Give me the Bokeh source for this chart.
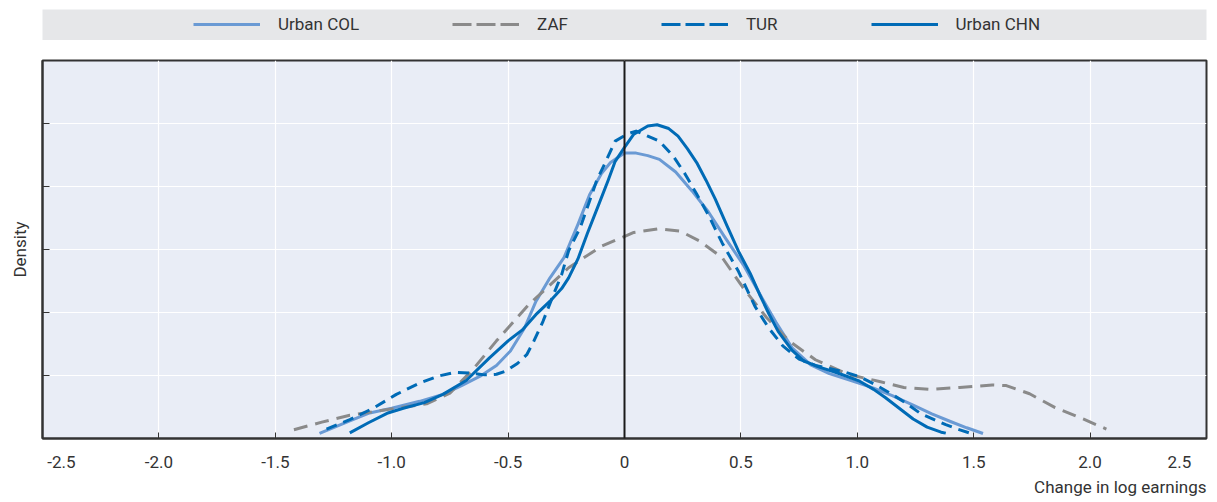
from bokeh.plotting import figure
from bokeh.models import Range1d, FixedTicker, Span, Legend, LegendItem, Title, CustomLabelingPolicy
from bokeh.layouts import column
from bokeh.embed import file_html
from bokeh.resources import INLINE

# ---------------- data ----------------
series_names = ["Urban COL", "ZAF", "TUR", "Urban CHN"]

col_x = [-1.31, -1.18, -1.10, -1.0, -0.88, -0.78, -0.70, -0.62, -0.55, -0.49, -0.43, -0.38, -0.32,
         -0.26, -0.20, -0.15, -0.10, -0.06, 0.0, 0.05, 0.10, 0.15, 0.22, 0.29, 0.36, 0.43,
         0.51, 0.58, 0.65, 0.72, 0.80, 0.88, 0.98, 1.07, 1.15, 1.24, 1.32, 1.40, 1.47, 1.54]
col_y = [0.08, 0.28, 0.40, 0.48, 0.59, 0.70, 0.84, 0.99, 1.16, 1.39, 1.75, 2.18, 2.55,
         2.87, 3.40, 3.87, 4.20, 4.38, 4.53, 4.53, 4.49, 4.43, 4.23, 3.93, 3.60, 3.20,
         2.76, 2.30, 1.85, 1.44, 1.17, 1.03, 0.91, 0.80, 0.68, 0.53, 0.39, 0.27, 0.17, 0.08]

zaf_x = [-1.42, -1.30, -1.18, -1.0, -0.85, -0.75, -0.65, -0.55, -0.41, -0.24, -0.10, 0.04,
         0.15, 0.24, 0.32, 0.42, 0.51, 0.61, 0.71, 0.82, 0.96, 1.10, 1.20, 1.31, 1.44, 1.58,
         1.64, 1.74, 1.85, 1.97, 2.07]
zaf_y = [0.14, 0.26, 0.37, 0.47, 0.55, 0.72, 1.10, 1.55, 2.13, 2.71, 3.05, 3.27,
         3.33, 3.29, 3.14, 2.87, 2.39, 1.92, 1.54, 1.25, 1.02, 0.90, 0.81, 0.78, 0.81, 0.85,
         0.84, 0.71, 0.49, 0.31, 0.15]

tur_x = [-1.28, -1.18, -1.08, -0.98, -0.88, -0.80, -0.73, -0.66, -0.60, -0.55, -0.51, -0.46,
         -0.42, -0.39, -0.35, -0.31, -0.27, -0.24, -0.19, -0.15, -0.12, -0.08, -0.04, 0.01,
         0.05, 0.10, 0.15, 0.21, 0.26, 0.31, 0.36, 0.42, 0.49, 0.56, 0.62, 0.68, 0.75, 0.82,
         0.88, 0.95, 1.01, 1.08, 1.15, 1.21, 1.27, 1.33, 1.38, 1.43, 1.48]
tur_y = [0.15, 0.30, 0.48, 0.70, 0.88, 0.99, 1.05, 1.04, 1.01, 1.02, 1.07, 1.19,
         1.33, 1.54, 1.86, 2.24, 2.60, 2.98, 3.35, 3.77, 4.09, 4.40, 4.72, 4.83,
         4.88, 4.80, 4.72, 4.48, 4.20, 3.88, 3.55, 3.10, 2.65, 2.10, 1.75, 1.47, 1.26, 1.16,
         1.11, 1.05, 0.98, 0.85, 0.70, 0.56, 0.40, 0.30, 0.22, 0.15, 0.09]

chn_x = [-1.18, -1.10, -1.02, -0.95, -0.86, -0.78, -0.68, -0.58, -0.50, -0.44, -0.38, -0.32,
         -0.27, -0.24, -0.20, -0.16, -0.11, -0.07, -0.04, 0.0, 0.04, 0.10, 0.14, 0.19, 0.23,
         0.27, 0.31, 0.35, 0.39, 0.44, 0.49, 0.54, 0.58, 0.62, 0.66, 0.72, 0.77, 0.84, 0.90,
         0.96, 1.01, 1.07, 1.12, 1.18, 1.24, 1.30, 1.36, 1.38]
chn_y = [0.09, 0.25, 0.40, 0.48, 0.57, 0.70, 0.92, 1.28, 1.55, 1.72, 1.97, 2.18,
         2.38, 2.55, 2.85, 3.25, 3.72, 4.10, 4.40, 4.62, 4.83, 4.96, 4.98, 4.92, 4.80,
         4.60, 4.38, 4.10, 3.80, 3.38, 2.97, 2.62, 2.29, 1.98, 1.70, 1.40, 1.23, 1.13, 1.06,
         0.98, 0.91, 0.78, 0.65, 0.48, 0.31, 0.18, 0.10, 0.085]

x_ticks = [-2.5, -2.0, -1.5, -1.0, -0.5, 0.0, 0.5, 1.0, 1.5, 2.0, 2.5]
x_tick_labels = ["-2.5", "-2.0", "-1.5", "-1.0", "-0.5", "0", "0.5", "1.0", "1.5", "2.0", "2.5"]
y_ticks = [1, 2, 3, 4, 5]

# ---------------- styles ----------------
FONT = "Roboto"
TXT = "#333333"
styles = [
    dict(color="#6A9AD4", dash="solid", legend_dash="solid"),
    dict(color="#8A8A8A", dash="14 8", legend_dash="19 5"),
    dict(color="#006BB6", dash="11 7", legend_dash="19 5"),
    dict(color="#006BB6", dash="solid", legend_dash="solid"),
]
series_xy = [(col_x, col_y), (zaf_x, zaf_y), (tur_x, tur_y), (chn_x, chn_y)]

# ---------------- main plot ----------------
p = figure(frame_width=1164, frame_height=378,
           x_range=Range1d(-2.5, 2.5), y_range=Range1d(0, 6),
           output_backend="svg", toolbar_location=None,
           min_border_left=42, min_border_right=10, min_border_top=20, min_border_bottom=0,
           background_fill_color="#E9EDF6", border_fill_color="white")
p.outline_line_color = "#333333"
p.outline_line_width = 2

p.xaxis.ticker = FixedTicker(ticks=x_ticks)
overrides = {}
for t, lab in zip(x_ticks, x_tick_labels):
    overrides[t] = lab
overrides[x_ticks[0]] = "\u00a0" * 9 + x_tick_labels[0]
overrides[x_ticks[-1]] = x_tick_labels[-1] + "\u00a0" * 6
p.xaxis.major_label_overrides = overrides
p.xaxis.major_label_text_font = FONT
p.xaxis.major_label_text_font_size = "17px"
p.xaxis.major_label_text_color = TXT
p.xaxis.major_label_standoff = 13
p.xaxis.major_tick_in = 6
p.xaxis.major_tick_out = 0
p.xaxis.minor_tick_line_color = None
p.xaxis.axis_line_color = "#333333"
p.xaxis.axis_line_width = 2
p.xaxis.major_tick_line_color = "#333333"

p.yaxis.ticker = FixedTicker(ticks=y_ticks)
p.yaxis.major_label_policy = CustomLabelingPolicy(
    code="for (const i of [...indices]) { indices.unset(i) }\nreturn indices")
p.yaxis.major_label_text_font_size = "0px"
p.yaxis.major_label_standoff = 0
p.yaxis.major_tick_in = 7
p.yaxis.major_tick_out = 0
p.yaxis.minor_tick_line_color = None
p.yaxis.axis_line_color = "#333333"
p.yaxis.axis_line_width = 2
p.yaxis.major_tick_line_color = "#333333"
p.yaxis.axis_label = "Density"
p.yaxis.axis_label_text_font = FONT
p.yaxis.axis_label_text_font_size = "17px"
p.yaxis.axis_label_text_font_style = "normal"
p.yaxis.axis_label_text_color = TXT
p.yaxis.axis_label_standoff = 13

p.grid.grid_line_color = "white"
p.grid.grid_line_width = 1.2

p.add_layout(Span(location=0, dimension="height", line_color="#1a1a1a", line_width=2))

for (xs, ys), st in zip(series_xy, styles):
    p.line(xs, ys, line_color=st["color"], line_width=3, line_dash=st["dash"],
           line_join="round")

p.add_layout(Title(text="Change in log earnings", align="right", text_font=FONT,
                   text_font_size="17px", text_font_style="normal", text_color=TXT,
                   standoff=0), "below")

# ---------------- legend band ----------------
lg = figure(frame_width=1164, frame_height=31,
            x_range=Range1d(0, 1), y_range=Range1d(0, 1),
            output_backend="svg", toolbar_location=None,
            min_border_left=42, min_border_right=10, min_border_top=9, min_border_bottom=0,
            background_fill_color="#E6E7E9", border_fill_color="white")
lg.outline_line_color = None
lg.axis.visible = False
lg.grid.visible = False
items = []
for name, st in zip(series_names, styles):
    # invisible helper line (outside the range) that only supplies the legend swatch
    r = lg.line([5, 6], [5, 6], line_color=st["color"], line_width=3,
                line_dash=st["legend_dash"])
    items.append(LegendItem(label=name, renderers=[r]))
legend = Legend(items=items, orientation="horizontal", location=(151, 6),
                glyph_width=67, glyph_height=20, label_standoff=18, spacing=93,
                padding=0, margin=0, border_line_color=None, background_fill_alpha=0,
                label_text_font=FONT, label_text_font_size="17px", label_text_color=TXT)
lg.add_layout(legend, "center")

layout = column(lg, p)
open("out.html", "w").write(file_html(layout, INLINE))
